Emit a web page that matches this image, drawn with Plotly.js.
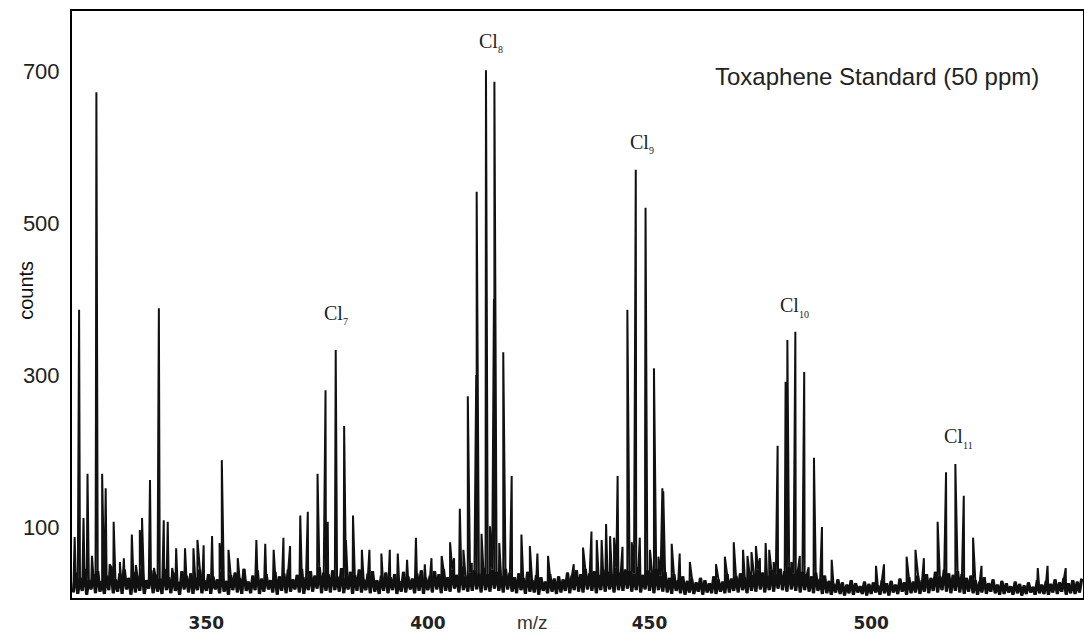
<!DOCTYPE html>
<html>
<head>
<meta charset="utf-8">
<script src="https://cdn.plot.ly/plotly-3.0.1.min.js"></script>
<style>html,body{margin:0;padding:0;background:#fff;}#chart{width:1084px;height:636px;}</style>
</head>
<body>
<div id="chart"></div>
<script>
// ---- data ----
// resolved peaks (m/z, counts)
const peakMz = [320.3,321.3,322.3,323.2,324.2,325.1,325.2,326.5,327.3,328.2,329.1,330.5,331.4,333.2,334.1,335.0,335.5,337.3,338.2,339.2,339.3,340.4,341.3,342.3,343.2,345.2,347.1,348.0,349.4,351.3,353.0,353.5,355.0,357.1,361.3,363.3,365.2,367.4,368.9,371.2,372.9,375.1,376.9,377.4,379.1,379.2,381.1,381.5,383.1,385.1,386.8,389.5,391.4,393.2,395.3,397.3,399.3,400.8,403.1,405.0,405.9,407.2,408.0,409.0,409.9,410.9,411.0,412.1,413.1,414.0,414.9,415.0,416.1,417.0,418.9,421.1,423.0,424.7,427.1,432.9,435.0,436.9,438.1,439.2,440.2,441.1,442.0,442.8,443.9,445.0,446.0,446.9,447.8,449.0,449.1,450.1,451.0,452.0,452.9,453.1,455.0,456.8,459.1,465.0,467.0,469.0,471.1,472.1,473.0,474.0,474.9,476.2,477.0,478.0,478.9,480.7,481.1,482.0,482.9,483.9,484.9,485.9,487.1,488.9,491.1,501.1,502.9,508.0,510.0,511.9,515.0,516.9,519.0,520.9,523.0,524.9,537.6,539.8,543.9];
const peakCounts = [87,386,112,170,62,250,672,170,151,51,107,54,59,90,50,96,112,162,46,274,388,109,107,46,72,72,72,83,76,88,79,188,70,59,83,78,70,86,75,115,120,170,280,107,180,333,233,83,115,70,70,65,70,65,57,86,51,59,62,80,59,124,70,272,53,300,541,91,701,101,400,686,79,330,167,90,75,65,62,51,73,94,83,83,104,88,86,167,74,386,80,570,86,200,520,70,309,61,151,147,78,65,54,51,61,80,70,62,67,75,59,79,70,54,207,291,346,54,357,62,304,47,191,100,57,49,51,61,70,59,107,172,183,141,86,49,46,49,46];

// baseline noise, sampled every 0.5 m/z from m/z 320
const noiseStartMz = 320;
const noiseStepMz = 0.5;
const noiseCounts = [
14,40,12,33,16,45,11,30,18,38,13,42,15,29,12,36,17,48,13,31,
15,39,12,44,18,33,11,41,14,35,16,46,12,30,19,43,13,37,15,32,
12,45,17,34,13,40,16,28,11,42,18,36,14,39,12,33,17,44,13,30,
16,38,12,35,18,31,13,42,15,29,11,37,17,40,14,33,12,45,16,28,
13,36,17,43,12,32,15,38,18,30,14,41,11,35,16,39,13,44,15,31,
18,37,14,45,12,34,17,42,15,36,19,47,13,40,16,38,14,43,17,35,
15,46,13,33,18,41,12,37,16,44,14,31,17,39,13,42,15,30,12,36,
16,40,13,34,17,38,12,29,15,41,14,35,18,32,13,39,16,43,12,33,
17,36,14,42,18,38,13,45,16,34,15,44,19,37,14,48,17,35,15,40,
16,43,18,39,14,46,17,38,15,44,19,41,16,36,14,45,18,40,15,34,
13,39,17,33,12,41,15,30,14,37,11,34,16,28,13,38,15,32,12,35,
14,31,16,40,13,36,17,43,15,38,14,45,18,39,16,42,13,37,17,44,
15,41,18,38,14,46,17,40,16,44,19,42,15,39,17,47,14,37,18,43,
16,40,13,45,17,36,15,41,14,33,12,38,16,30,13,35,11,29,14,32,
12,27,15,33,11,30,14,26,13,35,12,31,15,28,13,38,14,32,16,36,
14,39,17,33,13,41,16,37,15,44,18,40,14,36,17,43,15,38,19,45,
17,42,15,47,18,39,16,44,14,41,17,38,15,35,13,40,16,32,12,36,
13,29,11,25,14,31,12,27,10,24,13,30,11,26,14,22,12,28,10,25,
12,27,14,23,11,30,13,26,10,29,14,24,12,32,15,27,11,34,13,28,
14,36,12,30,15,38,13,33,16,41,14,35,17,44,15,39,13,37,16,42,
14,38,12,33,15,36,13,30,11,28,14,34,12,26,15,31,13,24,11,29,
12,26,14,22,11,28,13,25,10,23,12,27,14,21,11,30,13,24,12,29,
11,25,14,31,12,27,15,33,11,26,13,30,12,28,14,32
];

const xTickVals = [350, 400, 450, 500];
const yTickVals = [100, 300, 500, 700];
const clusterNames = ['Cl', 'Cl', 'Cl', 'Cl', 'Cl'];
const clusterSubs = ['7', '8', '9', '10', '11'];

// ---- build spectrum ----
const noiseX = noiseCounts.map((c, i) => noiseStartMz + i * noiseStepMz);
const pts = [];
noiseCounts.forEach((c, i) => pts.push([noiseX[i], c]));
peakMz.forEach((m, i) => pts.push([m, peakCounts[i]]));
pts.sort((a, b) => a[0] - b[0]);
const specX = pts.map(p => p[0]);
const specY = pts.map(p => p[1]);

// dense baseline band (drawn thicker underneath)
const noiseTrace = {
  type: 'scatter', mode: 'lines', x: noiseX, y: noiseCounts,
  line: {color: '#111111', width: 3.2},
  hoverinfo: 'skip', showlegend: false
};
const trace = {
  type: 'scatter', mode: 'lines', x: specX, y: specY,
  line: {color: '#111111', width: 2},
  hoverinfo: 'skip', showlegend: false
};

// label placement (paper coords)
const clPos  = [[0.2473,0.4855],[0.4006,0.9489],[0.5500,0.7768],[0.6983,0.4991],[0.8605,0.2760]];
const subPos = [[0.2661,0.4702],[0.4194,0.9336],[0.5687,0.7615],[0.7171,0.4838],[0.8793,0.2606]];
const serif = 'Liberation Serif, Times New Roman, serif';
const annotations = [];
clusterNames.forEach((t, i) => {
  annotations.push({
    text: t, xref: 'paper', yref: 'paper', x: clPos[i][0], y: clPos[i][1],
    xanchor: 'left', yanchor: 'middle', showarrow: false,
    font: {family: serif, size: 20, color: '#222'}
  });
  annotations.push({
    text: clusterSubs[i], xref: 'paper', yref: 'paper', x: subPos[i][0], y: subPos[i][1],
    xanchor: 'left', yanchor: 'middle', showarrow: false,
    font: {family: serif, size: 10, color: '#222'}
  });
});
annotations.push({
  text: 'Toxaphene Standard (50 ppm)', xref: 'paper', yref: 'paper', x: 0.634, y: 0.8876,
  xanchor: 'left', yanchor: 'middle', showarrow: false,
  font: {family: 'Liberation Sans, Arial, sans-serif', size: 24, color: '#222'}
});
annotations.push({
  text: 'm/z', xref: 'paper', yref: 'paper', x: 0.455, y: -0.041,
  xanchor: 'center', yanchor: 'middle', showarrow: false,
  font: {family: 'Liberation Sans, Arial, sans-serif', size: 19, color: '#333'}
});
annotations.push({
  text: 'counts', xref: 'paper', yref: 'paper', x: -0.0455, y: 0.525,
  xanchor: 'center', yanchor: 'middle', showarrow: false, textangle: -90,
  font: {family: 'Liberation Sans, Arial, sans-serif', size: 20, color: '#111'}
});

const layout = {
  width: 1084, height: 636,
  margin: {l: 72, r: 1, t: 11, b: 38},
  paper_bgcolor: '#fff', plot_bgcolor: '#fff',
  showlegend: false,
  xaxis: {
    range: [319.7, 547.8], tickmode: 'array', tickvals: xTickVals,
    showgrid: false, zeroline: false, showline: true, mirror: true,
    linecolor: '#000', linewidth: 2, ticks: '', ticklabelstandoff: 9,
    tickfont: {family: 'DejaVu Sans, sans-serif', size: 17, color: '#222', weight: 'bold'}
  },
  yaxis: {
    range: [6.6, 779], tickmode: 'array', tickvals: yTickVals,
    showgrid: false, zeroline: false, showline: true, mirror: true,
    linecolor: '#000', linewidth: 2, ticks: '', ticklabelstandoff: 6,
    tickfont: {family: 'Liberation Sans, Arial, sans-serif', size: 22, color: '#222'}
  },
  annotations: annotations
};

Plotly.newPlot('chart', [noiseTrace, trace], layout, {displayModeBar: false, staticPlot: true});
</script>
</body>
</html>
